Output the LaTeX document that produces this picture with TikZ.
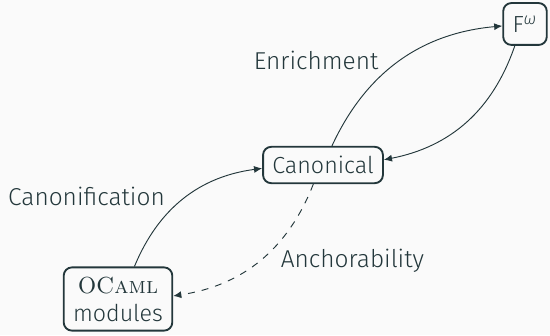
\documentclass[tikz,border=0pt]{standalone}
\usepackage{fontspec}
\setsansfont{Fira Sans Light}
\usetikzlibrary{arrows.meta}
\definecolor{ink}{HTML}{23373B}
\definecolor{paper}{HTML}{FAFAFA}
\begin{document}
\begin{tikzpicture}[x=0.43pt,y=0.43pt,
  every node/.style={text=ink,font=\sffamily\fontsize{10}{12}\selectfont},
  box/.style={draw=ink,thick,rounded corners=3.5pt,inner sep=4pt,align=center},
  lbl/.style={auto,font=\sffamily\fontsize{10.5}{12}\selectfont},
  link/.style={draw=ink,-{Latex[length=3.5pt,width=3pt]},bend left=30}]
  \fill[paper] (0,0) rectangle (550,335);
  \useasboundingbox (0,0) rectangle (550,335);
  \node[box,minimum height=18pt] (f) at (525,311) {F\textsuperscript{\textit{ω}}};
  \node[box] (can) at (323,170) {Canonical};
  \node[box] (ocaml) at (118,36) {{\rmfamily O\textsc{Caml}}\\modules};
  \draw[link] (ocaml) to node[lbl,xshift=-4.7pt,yshift=-6.5pt] {Canonification} (can);
  \draw[link] (can) to node[lbl,xshift=-5.6pt,yshift=-7.3pt] {Enrichment} (f);
  \draw[link] (f) to (can);
  \draw[link,dashed] (can) to node[lbl,xshift=5.6pt,yshift=8.6pt] {Anchorability} (ocaml);
\end{tikzpicture}
\end{document}
